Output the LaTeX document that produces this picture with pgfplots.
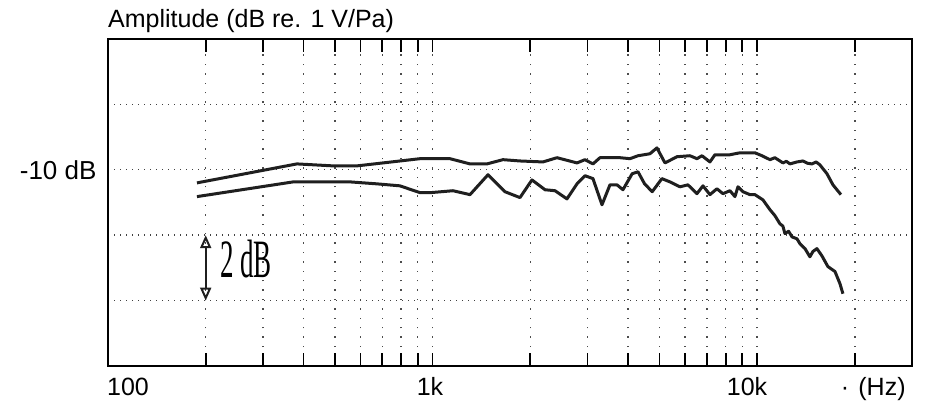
\documentclass[border=0pt]{standalone}
\usepackage{pgfplots}
\pgfplotsset{compat=1.18}
\usepackage{pgfplotstable}
\usepackage{fontspec}
\setmainfont{Liberation Sans}
\newfontfamily\seriffont{Liberation Serif}
\usepackage{graphicx}
\usetikzlibrary{arrows.meta}

\pgfplotstableread{
f      a
188    -10.40
382    -9.82
493    -9.88
585    -9.88
703    -9.79
915    -9.66
1131   -9.66
1304   -9.82
1471   -9.82
1648   -9.69
1859   -9.73
2188   -9.76
2417   -9.63
2786   -9.79
2948   -9.69
3120   -9.82
3279   -9.63
3779   -9.63
4057   -9.66
4294   -9.57
4673   -9.51
4911   -9.33
5200   -9.79
5661   -9.60
6209   -9.57
6525   -9.66
6761   -9.57
7154   -9.76
7413   -9.54
8245   -9.54
8851   -9.48
9845   -9.48
10350  -9.57
10950  -9.69
11340  -9.63
12010  -9.79
12300  -9.74
12620  -9.82
13260  -9.76
13840  -9.73
14300  -9.80
14750  -9.82
15200  -9.76
15610  -9.85
16410  -10.12
17120  -10.46
18120  -10.76
}\uppercurve

\pgfplotstableread{
f      a
188    -10.82
372    -10.37
557    -10.37
674    -10.43
793    -10.49
915    -10.70
982    -10.70
1156   -10.64
1304   -10.76
1482   -10.15
1671   -10.67
1859   -10.85
2024   -10.31
2220   -10.61
2384   -10.64
2594   -10.89
2786   -10.43
2948   -10.18
3120   -10.27
3326   -11.07
3520   -10.46
3700   -10.46
3860   -10.61
4120   -10.12
4294   -10.06
4500   -10.43
4750   -10.67
5088   -10.27
5387   -10.37
5783   -10.52
6120   -10.46
6525   -10.73
6808   -10.49
7154   -10.76
7519   -10.58
7845   -10.73
8245   -10.64
8543   -10.82
8727   -10.52
9042   -10.67
9501   -10.76
9845   -10.76
10420  -10.92
10950  -11.22
11340  -11.40
11750  -11.65
12000  -11.72
12180  -11.95
12500  -11.88
12800  -12.05
13260  -12.11
13550  -12.26
14040  -12.41
14540  -12.66
14850  -12.50
15280  -12.41
15830  -12.63
16520  -12.96
17370  -13.11
17990  -13.48
18380  -13.79
}\lowercurve

\begin{document}
\begin{tikzpicture}[x=1pt,y=1pt]
\useasboundingbox (0,0) rectangle (925,404);
\begin{axis}[
  at={(108pt,38pt)}, anchor=south west,
  scale only axis, width=804pt, height=327pt,
  xmode=log, xmin=100, xmax=30000, ymin=-16, ymax=-6,
  xtick={200,300,400,500,600,700,800,900,1000,2000,3000,4000,5000,6000,7000,8000,9000,10000,20000},
  minor xtick={},
  xticklabels={},
  xtick pos=both,
  tick align=inside,
  major tick length=13pt,
  x tick style={line width=1.8pt, black},
  ytick={-14,-12,-10,-8},
  yticklabels={,,-10 dB,},
  y tick style={draw=none},
  yticklabel style={font=\fontsize{26}{26}\selectfont, anchor=east, xshift=-8pt},
  grid=major,
  x grid style={black!70, line width=1.4pt, dash pattern=on 1.4pt off 8pt},
  y grid style={black!75, line width=1.4pt, dash pattern=on 1.4pt off 4.6pt},
  axis line style={line width=2.3pt, black},
  clip=false,
]
\addplot[line width=3pt, black!88, line join=round] table[x=f,y=a] {\uppercurve};
\addplot[line width=3pt, black!88, line join=round] table[x=f,y=a] {\lowercurve};
\draw[{Triangle[open,width=11pt,length=13pt,line width=2pt]}-{Triangle[open,width=11pt,length=13pt,line width=2pt]}, line width=2pt, black!88]
  (axis cs:200,-12) -- (axis cs:200,-14);
\end{axis}
\node[anchor=base west, inner sep=0, font=\fontsize{25}{25}\selectfont] at (108,376) {Amplitude (dB re. 1 V/Pa)};
\node[anchor=base, inner sep=0, font=\fontsize{25}{25}\selectfont] at (128,9) {100};
\node[anchor=base, inner sep=0, font=\fontsize{25}{25}\selectfont] at (430,9) {1k};
\node[anchor=base, inner sep=0, font=\fontsize{25}{25}\selectfont] at (747,9) {10k};
\node[anchor=base, inner sep=0, font=\fontsize{25}{25}\selectfont] at (845,9) {·};
\node[anchor=base, inner sep=0, font=\fontsize{25}{25}\selectfont] at (882,9) {(Hz)};
\node[anchor=base, inner sep=0] at (246,126) {\scalebox{0.5}[1]{\seriffont\fontsize{54}{54}\selectfont 2 dB}};
\end{tikzpicture}
\end{document}
